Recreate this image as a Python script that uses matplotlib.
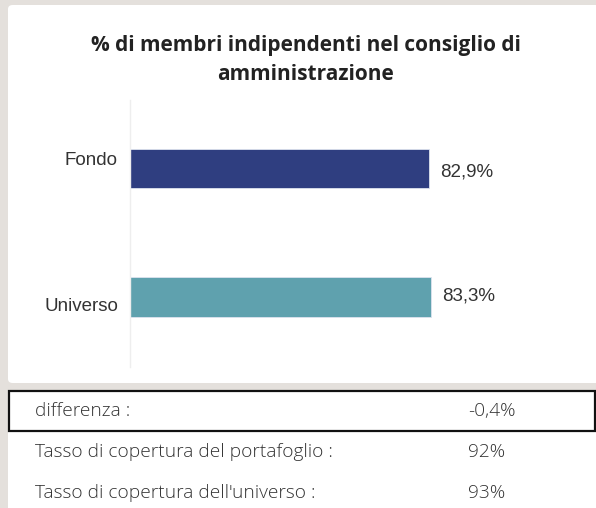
import matplotlib
matplotlib.use("Agg")
import matplotlib.pyplot as plt
from matplotlib.patches import FancyBboxPatch, Rectangle

# data
categories = ["Fondo", "Universo"]
values = [82.9, 83.3]
value_labels = ["82,9%", "83,3%"]
bar_colors = ["#2f3e80", "#5fa1ae"]
title = "% di membri indipendenti nel consiglio di\namministrazione"
table_labels = ["differenza :", "Tasso di copertura del portafoglio :",
                "Tasso di copertura dell'universo :"]
table_values = ["-0,4%", "92%", "93%"]

W, H = 596, 508
fig = plt.figure(figsize=(W / 100, H / 100), dpi=100)
fig.patch.set_facecolor("#e4e0dc")


def fx(x):
    return x / W


def fy(y):
    return 1 - y / H


# white panel for chart
fig.patches.append(FancyBboxPatch((fx(8), fy(383)), fx(600 - 8), fy(5) - fy(383),
                                  boxstyle="round,pad=0,rounding_size=0.008",
                                  transform=fig.transFigure, facecolor="white",
                                  edgecolor="none", zorder=-2))
# white area under table
fig.patches.append(Rectangle((fx(8), 0), fx(600 - 8), fy(390), transform=fig.transFigure,
                             facecolor="white", edgecolor="none", zorder=-2))
# box around first row
fig.patches.append(Rectangle((fx(9), fy(431)), fx(595 - 9), fy(391) - fy(431),
                             transform=fig.transFigure, facecolor="none",
                             edgecolor="#111111", linewidth=1.6, zorder=2))

fig.text(fx(306), fy(60), title, ha="center", va="center", fontsize=15,
         fontweight="bold", family="Open Sans", color="#222222", linespacing=1.45)

ax = fig.add_axes([fx(130), fy(367), fx(361), fy(100) - fy(367)])
ax.set_facecolor("none")
pos = list(range(len(categories)))
ax.barh(pos, values, height=0.31, color=bar_colors, edgecolor="#dde3ee", linewidth=0.6)
ax.set_xlim(0, 100)
ax.set_ylim(1.545, -0.533)
for s in ["top", "right", "bottom"]:
    ax.spines[s].set_visible(False)
ax.spines["left"].set_color("#eeeeee")
ax.spines["left"].set_linewidth(1.0)
ax.set_xticks([])
ax.set_yticks([])

label_shift = [8, -10]
value_shift = [-4, 1]
for i, (c, v, vl) in enumerate(zip(categories, values, value_labels)):
    ax.annotate(c, (0, i), xytext=(-12, label_shift[i]), textcoords="offset pixels",
                ha="right", va="center", fontsize=13.5, family="Liberation Sans",
                color="#333333")
    ax.annotate(vl, (v, i), xytext=(11, value_shift[i]), textcoords="offset pixels",
                ha="left", va="center", fontsize=13.5, family="Liberation Sans",
                color="#333333")

row_y = [411, 452, 493]
for y, lab, val in zip(row_y, table_labels, table_values):
    fig.text(fx(35), fy(y), lab, ha="left", va="center", fontsize=13.8,
             family="Open Sans", fontweight="light", color="#333333")
    fig.text(fx(468), fy(y), val, ha="left", va="center", fontsize=13.8,
             family="Open Sans", fontweight="light", color="#333333")

fig.savefig("out.png", dpi=100, facecolor=fig.get_facecolor())
